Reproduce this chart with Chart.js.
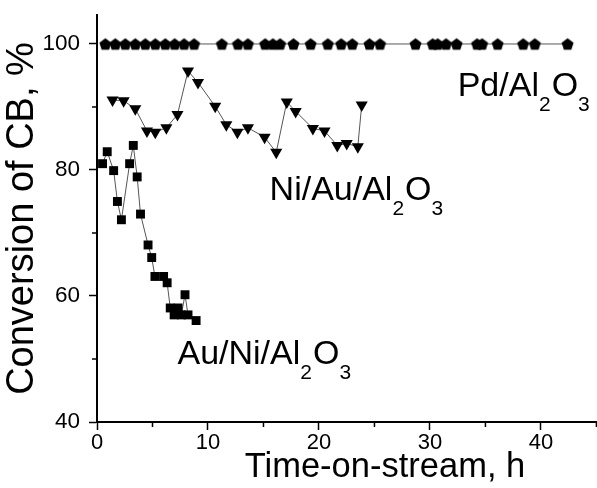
<!DOCTYPE html>
<html>
<head>
<meta charset="utf-8">
<script src="https://cdn.jsdelivr.net/npm/chart.js@4"></script>
<style>
    html, body { margin: 0; padding: 0; background: #fff; overflow: hidden; }
    #wrap { width: 680px; height: 488px; }
</style>
</head>
<body>
<div id="wrap"><canvas id="chart" width="680" height="488"></canvas></div>
<script>
// Pd/Al2O3 - sempre 100%
const pdTime = [0.75, 1.65, 2.55, 3.45, 4.35, 5.25, 6.15, 7.0, 7.85, 8.75, 11.25, 12.7, 13.6, 15.15, 15.85, 16.5, 17.7,
    19.25, 20.8, 22.0, 23.0, 24.55, 25.5, 28.7, 30.25, 30.7, 31.45, 32.4, 34.25, 34.7, 36.1, 38.4, 39.45, 42.4];
const pdConv = [100, 100, 100, 100, 100, 100, 100, 100, 100, 100, 100, 100, 100, 100, 100, 100, 100,
    100, 100, 100, 100, 100, 100, 100, 100, 100, 100, 100, 100, 100, 100, 100, 100, 100];

// Ni/Au/Al2O3
const niAuTime = [1.4, 2.4, 3.45, 4.5, 5.25, 6.25, 7.25, 8.2, 9.1, 10.65, 11.65, 12.65, 13.6, 15.1, 16.15, 17.1,
    17.9, 19.45, 20.5, 21.65, 22.5, 23.5, 23.85];
const niAuConv = [91.1, 91.0, 89.7, 86.2, 86.0, 86.7, 88.8, 95.7, 93.9, 90.1, 87.2, 86.0, 86.7, 85.2, 82.8, 90.8,
    89.3, 86.6, 86.2, 83.9, 84.2, 83.7, 90.3];

// Au/Ni/Al2O3
const auNiTime = [0.5, 0.92, 1.5, 1.84, 2.2, 2.94, 3.27, 3.62, 3.92, 4.6, 4.93, 5.22, 6.0, 6.32, 6.6, 6.95, 7.3,
    7.6, 7.93, 8.2, 8.93];
const auNiConv = [81.0, 82.9, 79.9, 75.0, 72.1, 81.0, 83.9, 78.9, 73.0, 68.1, 66.1, 63.1, 63.1, 62.1, 58.1, 57.0, 58.1,
    57.0, 60.2, 57.0, 56.1];

// rotulos das series (texto, sub-indices) e onde ficam em coordenadas de dados
const labelParts = [
    [['Pd/Al', false], ['2', true], ['O', false], ['3', true]],
    [['Ni/Au/Al', false], ['2', true], ['O', false], ['3', true]],
    [['Au/Ni/Al', false], ['2', true], ['O', false], ['3', true]]
];
const labelX = [32.5, 15.55, 7.25];
const labelY = [91.8, 75.3, 49.25];

const xMinorTicks = [5, 15, 25, 35, 45];
const yMinorTicks = [50, 70, 90];

const FONT = "'Liberation Sans', Arial, sans-serif";

function toPoints(xs, ys) {
    return xs.map((x, i) => ({ x: x, y: ys[i] }));
}

// pentagono preenchido para o marcador do Pd
function pentagono(r) {
    const c = document.createElement('canvas');
    const s = Math.ceil(r * 2 + 2);
    c.width = s; c.height = s;
    const g = c.getContext('2d');
    g.beginPath();
    for (let k = 0; k < 5; k++) {
        const a = -Math.PI / 2 + k * 2 * Math.PI / 5;
        const px = s / 2 + r * Math.cos(a);
        const py = s / 2 + 0.6 + r * Math.sin(a);
        if (k === 0) g.moveTo(px, py); else g.lineTo(px, py);
    }
    g.closePath();
    g.fillStyle = '#000';
    g.fill();
    return c;
}

// ticks menores + rotulos com subscrito
const extras = {
    id: 'extras',
    afterDraw(chart) {
        const ctx = chart.ctx;
        const xs = chart.scales.x, ys = chart.scales.y;
        const area = chart.chartArea;
        ctx.save();
        ctx.strokeStyle = '#000';
        ctx.lineWidth = 1.5;
        xMinorTicks.forEach(v => {
            const px = xs.getPixelForValue(v);
            if (px > area.right) return;
            ctx.beginPath();
            ctx.moveTo(px, area.bottom);
            ctx.lineTo(px, area.bottom + 5);
            ctx.stroke();
        });
        yMinorTicks.forEach(v => {
            const py = ys.getPixelForValue(v);
            ctx.beginPath();
            ctx.moveTo(area.left, py);
            ctx.lineTo(area.left - 5, py);
            ctx.stroke();
        });

        ctx.fillStyle = '#000';
        ctx.textBaseline = 'alphabetic';
        ctx.textAlign = 'left';
        labelParts.forEach((parts, i) => {
            let px = xs.getPixelForValue(labelX[i]);
            const py = ys.getPixelForValue(labelY[i]);
            parts.forEach(([txt, sub]) => {
                ctx.font = (sub ? '21px ' : '34px ') + FONT;
                ctx.fillText(txt, px, sub ? py + 15 : py);
                px += ctx.measureText(txt).width + (sub ? 1 : 0);
            });
        });
        ctx.restore();
    }
};

const linha = '#555';

new Chart(document.getElementById('chart').getContext('2d'), {
    type: 'scatter',
    data: {
        datasets: [
            {
                label: 'Pd/Al2O3',
                data: toPoints(pdTime, pdConv),
                showLine: true,
                borderColor: linha,
                borderWidth: 1,
                pointStyle: pentagono(6.3),
                pointRadius: 6
            },
            {
                label: 'Ni/Au/Al2O3',
                data: toPoints(niAuTime, niAuConv),
                showLine: true,
                borderColor: linha,
                borderWidth: 1,
                pointStyle: 'triangle',
                rotation: 180,
                pointRadius: 7,
                pointBackgroundColor: '#000',
                pointBorderColor: '#000',
                pointBorderWidth: 0
            },
            {
                label: 'Au/Ni/Al2O3',
                data: toPoints(auNiTime, auNiConv),
                showLine: true,
                borderColor: linha,
                borderWidth: 1,
                pointStyle: 'rect',
                pointRadius: 6.3,
                pointBackgroundColor: '#000',
                pointBorderColor: '#000',
                pointBorderWidth: 0
            }
        ]
    },
    options: {
        responsive: false,
        animation: false,
        layout: { padding: { top: 15, right: 0, left: 0, bottom: 0 } },
        plugins: {
            legend: { display: false },
            tooltip: { enabled: false }
        },
        scales: {
            x: {
                type: 'linear',
                min: 0,
                max: 51.9,
                afterFit: s => { s.height = 66; s.paddingLeft = 0; s.paddingRight = 0; },
                ticks: { stepSize: 10, includeBounds: false, color: '#000', font: { family: FONT, size: 22 }, padding: 0, maxRotation: 0 },
                grid: { drawOnChartArea: false, drawTicks: true, tickLength: 8, tickColor: '#000', tickWidth: 1.5 },
                border: { color: '#000', width: 2 },
                title: { display: true, text: 'Time-on-stream, h', color: '#000', font: { family: FONT, size: 34.5 }, padding: { top: 0, bottom: 0 } }
            },
            y: {
                type: 'linear',
                min: 40,
                max: 104.6,
                afterFit: s => { s.width = 97; s.paddingTop = 0; s.paddingBottom = 0; },
                ticks: { stepSize: 20, includeBounds: false, color: '#000', font: { family: FONT, size: 22.5 }, padding: 9 },
                grid: { drawOnChartArea: false, drawTicks: true, tickLength: 8, tickColor: '#000', tickWidth: 1.5 },
                border: { color: '#000', width: 2 },
                title: { display: true, text: 'Conversion of CB, %', color: '#000', font: { family: FONT, size: 38 }, padding: { top: 0, bottom: 0 } }
            }
        }
    },
    plugins: [extras]
});
</script>
</body>
</html>
